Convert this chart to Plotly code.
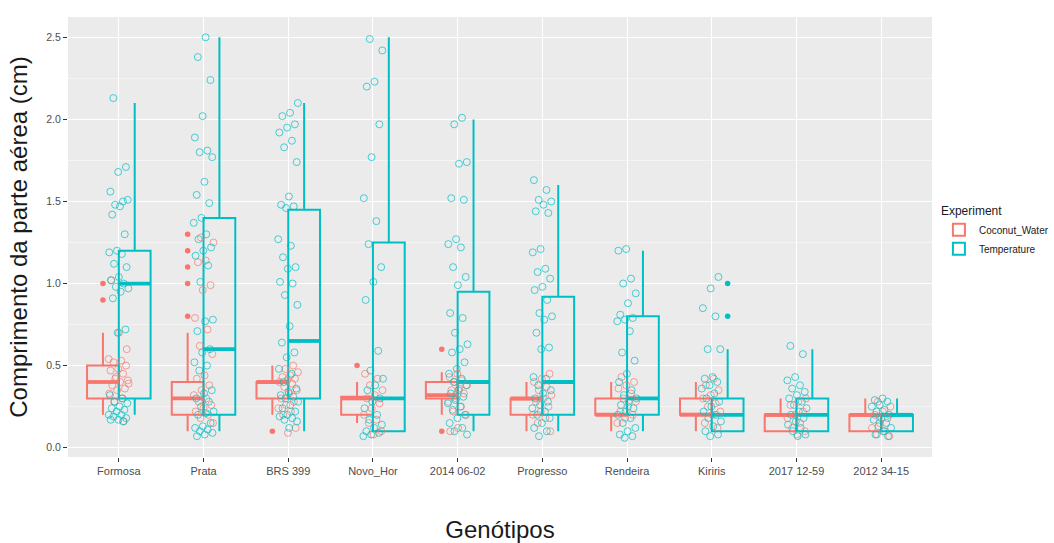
import plotly.graph_objects as go

# ---------------- data ----------------
genotypes = ["Formosa", "Prata", "BRS 399", "Novo_Hor", "2014 06-02",
             "Progresso", "Rendeira", "Kiriris", "2017 12-59", "2012 34-15"]

# Coconut_Water box statistics
cw_low  = [0.20, 0.10, 0.20, 0.15, 0.20, 0.10, 0.10, 0.10, 0.10, 0.10]
cw_q1   = [0.30, 0.20, 0.30, 0.20, 0.30, 0.20, 0.20, 0.20, 0.10, 0.10]
cw_med  = [0.40, 0.30, 0.40, 0.30, 0.32, 0.30, 0.20, 0.20, 0.20, 0.20]
cw_q3   = [0.50, 0.40, 0.40, 0.31, 0.40, 0.30, 0.30, 0.30, 0.20, 0.20]
cw_high = [0.70, 0.70, 0.50, 0.40, 0.46, 0.40, 0.40, 0.40, 0.30, 0.30]

# Temperature box statistics
tp_low  = [0.20, 0.10, 0.10, 0.10, 0.10, 0.10, 0.10, 0.10, 0.10, 0.10]
tp_q1   = [0.30, 0.20, 0.30, 0.10, 0.20, 0.20, 0.20, 0.10, 0.10, 0.10]
tp_med  = [1.00, 0.60, 0.65, 0.30, 0.40, 0.40, 0.30, 0.20, 0.20, 0.20]
tp_q3   = [1.20, 1.40, 1.45, 1.25, 0.95, 0.92, 0.80, 0.30, 0.30, 0.20]
tp_high = [2.10, 2.50, 2.10, 2.50, 2.00, 1.60, 1.20, 0.60, 0.60, 0.30]

# Outliers
cw_out_geno = ["Formosa", "Formosa", "Prata", "Prata", "Prata", "Prata", "Prata",
               "BRS 399", "Novo_Hor", "2014 06-02", "2014 06-02"]
cw_out_val  = [1.0, 0.9, 1.3, 1.2, 1.1, 1.0, 0.8, 0.1, 0.5, 0.6, 0.1]
tp_out_geno = ["Kiriris", "Kiriris"]
tp_out_val  = [1.0, 0.8]

# Jittered observations (per genotype)
cw_points = [
    [0.54, 0.53, 0.52, 0.50, 0.48, 0.47, 0.45, 0.42, 0.41, 0.40, 0.38, 0.36, 0.35,
     0.33, 0.30, 0.28, 0.60, 0.70, 1.02, 0.16, 0.43, 0.39],
    [1.28, 1.25, 1.14, 1.13, 0.99, 0.96, 0.79, 0.72, 0.62, 0.57, 0.44, 0.42, 0.38,
     0.35, 0.32, 0.30, 0.28, 0.26, 0.24, 0.22, 0.20, 0.18, 0.15],
    [0.50, 0.48, 0.46, 0.44, 0.43, 0.42, 0.41, 0.40, 0.39, 0.37, 0.35, 0.33, 0.30,
     0.28, 0.26, 0.24, 0.22, 0.20, 0.12, 0.09],
    [0.45, 0.42, 0.38, 0.35, 0.32, 0.30, 0.27, 0.24, 0.20, 0.17, 0.15, 0.10, 0.08],
    [0.45, 0.43, 0.41, 0.40, 0.38, 0.36, 0.35, 0.33, 0.30, 0.28, 0.25, 0.22, 0.20,
     0.12, 0.10],
    [0.45, 0.42, 0.40, 0.37, 0.35, 0.32, 0.30, 0.28, 0.25, 0.22, 0.20, 0.18, 0.15, 0.10],
    [0.43, 0.40, 0.38, 0.36, 0.33, 0.30, 0.28, 0.25, 0.22, 0.20, 0.18, 0.15],
    [0.42, 0.38, 0.35, 0.32, 0.30, 0.27, 0.25, 0.22, 0.20, 0.15, 0.12],
    [0.30, 0.28, 0.26, 0.22, 0.20, 0.18, 0.15, 0.12, 0.10, 0.08],
    [0.28, 0.25, 0.22, 0.20, 0.18, 0.15, 0.12, 0.10, 0.08, 0.07],
]
tp_points = [
    [2.13, 1.71, 1.68, 1.56, 1.50, 1.48, 1.51, 1.47, 1.42, 1.30, 1.20, 1.19, 1.18,
     1.12, 1.10, 1.04, 1.02, 1.00, 0.98, 0.97, 0.95, 0.91, 0.72, 0.70, 0.32, 0.30,
     0.28, 0.27, 0.25, 0.24, 0.23, 0.22, 0.20, 0.20, 0.19, 0.18, 0.17, 0.17, 0.16],
    [2.50, 2.38, 2.24, 2.02, 1.89, 1.81, 1.80, 1.77, 1.62, 1.54, 1.49, 1.40, 1.37,
     1.30, 1.27, 1.22, 1.20, 1.17, 1.11, 1.01, 0.78, 0.77, 0.71, 0.60, 0.58, 0.52,
     0.50, 0.47, 0.35, 0.33, 0.30, 0.28, 0.25, 0.22, 0.21, 0.20, 0.15, 0.13, 0.12,
     0.11, 0.10, 0.09, 0.08, 0.07],
    [2.10, 2.04, 2.02, 1.97, 1.95, 1.92, 1.87, 1.83, 1.74, 1.53, 1.48, 1.47, 1.46,
     1.27, 1.23, 1.16, 1.10, 1.09, 1.01, 1.00, 0.93, 0.87, 0.74, 0.64, 0.58, 0.55,
     0.48, 0.45, 0.40, 0.36, 0.34, 0.32, 0.31, 0.30, 0.28, 0.26, 0.24, 0.22, 0.20,
     0.19, 0.18, 0.17, 0.16, 0.12],
    [2.49, 2.42, 2.23, 2.20, 1.97, 1.77, 1.52, 1.38, 1.24, 1.10, 1.01, 0.90, 0.59,
     0.47, 0.42, 0.38, 0.35, 0.30, 0.28, 0.24, 0.20, 0.17, 0.14, 0.12, 0.10, 0.09,
     0.08, 0.07],
    [2.01, 1.97, 1.74, 1.73, 1.52, 1.51, 1.27, 1.24, 1.22, 1.10, 1.04, 0.99, 0.82,
     0.79, 0.70, 0.63, 0.60, 0.58, 0.52, 0.48, 0.45, 0.42, 0.40, 0.38, 0.35, 0.33,
     0.31, 0.29, 0.27, 0.25, 0.23, 0.20, 0.18, 0.15, 0.12, 0.10, 0.08],
    [1.63, 1.57, 1.51, 1.50, 1.48, 1.44, 1.43, 1.21, 1.19, 1.09, 1.07, 1.03, 0.98,
     0.96, 0.90, 0.82, 0.80, 0.78, 0.70, 0.61, 0.60, 0.43, 0.42, 0.38, 0.35, 0.33,
     0.30, 0.28, 0.26, 0.24, 0.22, 0.20, 0.18, 0.15, 0.12, 0.10, 0.07],
    [1.21, 1.20, 1.03, 1.00, 0.94, 0.88, 0.81, 0.79, 0.78, 0.77, 0.71, 0.58, 0.53,
     0.45, 0.40, 0.35, 0.32, 0.30, 0.28, 0.26, 0.24, 0.22, 0.20, 0.18, 0.15, 0.12,
     0.10, 0.08, 0.07, 0.06],
    [1.04, 0.97, 0.85, 0.80, 0.60, 0.60, 0.43, 0.42, 0.40, 0.38, 0.36, 0.33, 0.30,
     0.28, 0.25, 0.22, 0.20, 0.18, 0.16, 0.13, 0.10, 0.08, 0.07],
    [0.62, 0.57, 0.43, 0.41, 0.38, 0.36, 0.34, 0.32, 0.30, 0.28, 0.26, 0.24, 0.22,
     0.20, 0.18, 0.16, 0.14, 0.12, 0.10, 0.08, 0.07],
    [0.30, 0.29, 0.28, 0.26, 0.25, 0.23, 0.22, 0.20, 0.18, 0.17, 0.15, 0.13, 0.12,
     0.10, 0.08, 0.07],
]

y_ticks = [0.0, 0.5, 1.0, 1.5, 2.0, 2.5]

# ---------------- styling ----------------
RED = "#F8766D"
TEAL = "#00BFC4"
FONT = "Liberation Sans, Arial, sans-serif"
DODGE = 0.1875
BOXW = 0.375
JIT = 0.12

pos = {g: i + 1 for i, g in enumerate(genotypes)}

fig = go.Figure()

series = [
    ("Coconut_Water", RED, -1, cw_low, cw_q1, cw_med, cw_q3, cw_high, cw_out_geno, cw_out_val),
    ("Temperature", TEAL, +1, tp_low, tp_q1, tp_med, tp_q3, tp_high, tp_out_geno, tp_out_val),
]

for name, col, sgn, lo, q1, med, q3, hi, og, ov in series:
    xs = [pos[g] + sgn * DODGE for g in genotypes]
    fig.add_trace(go.Box(
        x=xs, q1=q1, median=med, q3=q3, lowerfence=lo, upperfence=hi,
        width=BOXW, whiskerwidth=0, boxpoints=False,
        fillcolor="rgba(0,0,0,0)", line=dict(color=col, width=2),
        name=name, legendgroup=name, showlegend=True, hoverinfo="skip"))
    # thicker median bars (ggplot fatten)
    mx, my = [], []
    for x, m in zip(xs, med):
        mx += [x - BOXW / 2, x + BOXW / 2, None]
        my += [m, m, None]
    fig.add_trace(go.Scatter(x=mx, y=my, mode="lines",
                             line=dict(color=col, width=3.8),
                             showlegend=False, legendgroup=name, hoverinfo="skip"))
    # outliers
    fig.add_trace(go.Scatter(x=[pos[g] + sgn * DODGE for g in og], y=ov, mode="markers",
                             marker=dict(color=col, size=5.5),
                             showlegend=False, legendgroup=name, hoverinfo="skip"))

# jittered raw points (deterministic jitter positions)
for si, (name, col, pts) in enumerate([("Coconut_Water", RED, cw_points),
                                        ("Temperature", TEAL, tp_points)]):
    jx, jy = [], []
    for gi, vals in enumerate(pts):
        for k, v in enumerate(vals):
            frac = (k * 0.6180339887 + gi * 0.371 + si * 0.23) % 1.0
            jx.append(gi + 1 + (frac - 0.5) * 2 * JIT)
            jy.append(v)
    fig.add_trace(go.Scatter(x=jx, y=jy, mode="markers",
                             marker=dict(symbol="circle-open", size=7, color=col,
                                         line=dict(width=1), opacity=0.7),
                             showlegend=False, legendgroup=name, hoverinfo="skip"))

fig.update_layout(
    width=1054, height=543,
    paper_bgcolor="white", plot_bgcolor="#EBEBEB",
    margin=dict(l=68, r=122, t=17, b=86, autoexpand=False),
    font=dict(family=FONT, color="#4D4D4D"),
    boxmode="overlay",
    legend=dict(
        title=dict(text="Experiment", font=dict(size=12, color="#1A1A1A")),
        font=dict(size=10, color="#1A1A1A"),
        x=1.008, xanchor="left", y=0.585, yanchor="top",
        itemwidth=30,
        bgcolor="rgba(0,0,0,0)", tracegroupgap=0,
    ),
    xaxis=dict(
        range=[0.4, 10.6], tickmode="array",
        tickvals=[pos[g] for g in genotypes], ticktext=genotypes,
        showgrid=True, gridcolor="white", gridwidth=1.1,
        zeroline=False, showline=False,
        ticks="outside", ticklen=4, tickcolor="#333333", tickwidth=1,
        tickfont=dict(size=11, color="#4D4D4D"),
        title=dict(text="Genótipos", font=dict(size=24, color="#1A1A1A"), standoff=44),
        automargin=False,
    ),
    yaxis=dict(
        range=[-0.057, 2.624], tickmode="array",
        tickvals=y_ticks, ticktext=[f"{v:.1f}" for v in y_ticks],
        showgrid=True, gridcolor="white", gridwidth=1.1,
        zeroline=False, showline=False,
        ticks="outside", ticklen=4, tickcolor="#333333", tickwidth=1,
        tickfont=dict(size=10.5, color="#4D4D4D"),
        minor=dict(tickvals=[0.25, 0.75, 1.25, 1.75, 2.25], showgrid=True,
                   gridcolor="#F4F4F4", gridwidth=0.6, ticks=""),
        title=dict(text="Comprimento da parte aérea (cm)",
                   font=dict(size=24, color="#1A1A1A"), standoff=11),
        automargin=False,
    ),
)

fig.write_html("out.html")
